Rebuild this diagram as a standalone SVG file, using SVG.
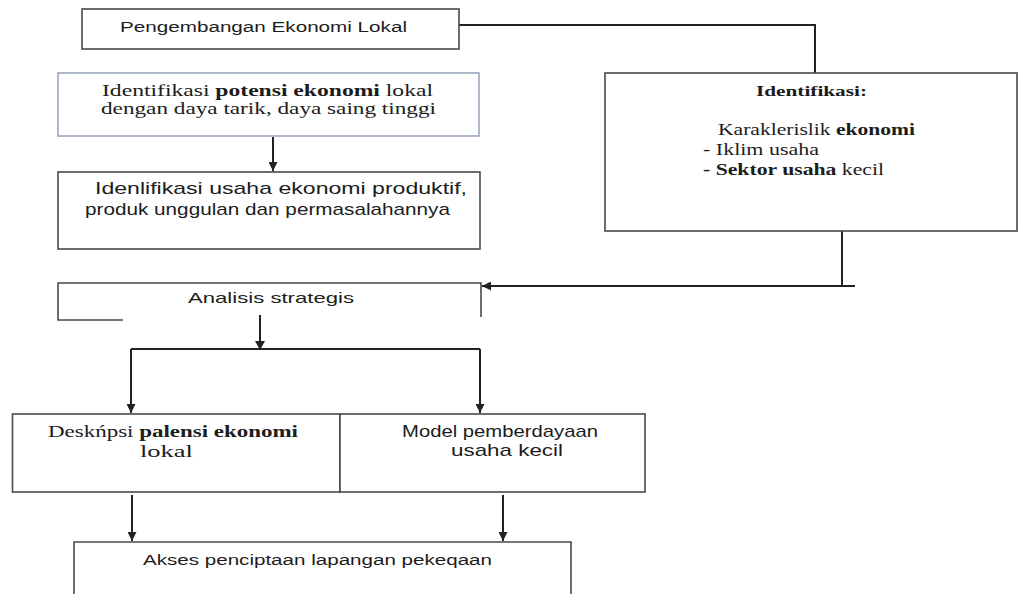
<svg xmlns="http://www.w3.org/2000/svg" width="1018" height="594" viewBox="0 0 1018 594">
<style>
.box{fill:#fff;stroke:#4a4a4a;stroke-width:1.6}
.boxl{fill:#fff;stroke:#8e9cb6;stroke-width:1.4}
.edge{fill:none;stroke:#4a4a4a;stroke-width:1.6}
.conn{fill:none;stroke:#222;stroke-width:2}
.sans{font-family:"Liberation Sans",Arial,sans-serif;fill:#1c1c1c}
.serif{font-family:"Liberation Serif","Times New Roman",serif;fill:#1c1c1c}
.b{font-weight:bold}
</style>
<defs>
<marker id="ah" viewBox="0 0 10 10" refX="10" refY="5" markerWidth="9" markerHeight="9" markerUnits="userSpaceOnUse" orient="auto">
<path d="M0,0 L10,5 L0,10 z" fill="#222"/>
</marker>
</defs>
<rect width="1018" height="594" fill="#fff"/>

<g id="connectors">
<path class="conn" d="M459,25 H815 V73"/>
<path class="conn" d="M273,137 V171" marker-end="url(#ah)"/>
<path class="conn" d="M842,231 V286"/>
<path class="conn" d="M855,286 H482" marker-end="url(#ah)"/>
<path class="conn" d="M260,315 V349"/>
<path class="conn" d="M131,349 H480"/>
<path class="conn" d="M131,349 V413" marker-end="url(#ah)"/>
<path class="conn" d="M480,349 V413" marker-end="url(#ah)"/>
<path class="conn" d="M132,495 V541" marker-end="url(#ah)"/>
<path class="conn" d="M503,495 V541" marker-end="url(#ah)"/>
<path d="M255,341 L265,341 L260,350 z" fill="#222"/>
</g>

<g id="n-pengembangan">
<rect class="box" x="82" y="9" width="377" height="40"/>
<text class="sans" x="120" y="31.5" font-size="15.5" textLength="287" lengthAdjust="spacingAndGlyphs">Pengembangan Ekonomi Lokal</text>
</g>

<g id="n-potensi">
<rect class="boxl" x="58" y="73" width="421" height="63"/>
<text class="serif" x="102" y="95.5" font-size="16" textLength="331" lengthAdjust="spacingAndGlyphs">Identifikasi <tspan class="b">potensi ekonomi</tspan> lokal</text>
<text class="serif" x="101" y="114" font-size="16" textLength="335" lengthAdjust="spacingAndGlyphs">dengan daya tarik, daya saing tinggi</text>
</g>

<g id="n-usaha">
<rect class="box" x="58" y="172" width="422" height="77"/>
<text class="sans" x="95" y="194" font-size="17" textLength="372" lengthAdjust="spacingAndGlyphs">Idenlifikasi usaha ekonomi produktif,</text>
<text class="sans" x="85" y="215" font-size="17" textLength="365" lengthAdjust="spacingAndGlyphs">produk unggulan dan permasalahannya</text>
</g>

<g id="n-identifikasi">
<rect class="box" x="605" y="73" width="412" height="158"/>
<text class="serif b" x="756" y="96" font-size="15.5" textLength="111" lengthAdjust="spacingAndGlyphs">Identifikasi:</text>
<text class="serif" x="718" y="135" font-size="16" textLength="197" lengthAdjust="spacingAndGlyphs">Karaklerislik <tspan class="b">ekonomi</tspan></text>
<text class="serif" x="703" y="155" font-size="16" textLength="116" lengthAdjust="spacingAndGlyphs">- Iklim usaha</text>
<text class="serif" x="703" y="175" font-size="16" textLength="181" lengthAdjust="spacingAndGlyphs"><tspan class="b">- Sektor usaha</tspan> kecil</text>
</g>

<g id="n-analisis">
<path class="edge" d="M123,320 H58 V283 H481 V317"/>
<text class="sans" x="188" y="303" font-size="15" textLength="166" lengthAdjust="spacingAndGlyphs">Analisis strategis</text>
</g>

<g id="n-deskripsi">
<rect class="box" x="12.5" y="414" width="327.5" height="78"/>
<text class="serif" x="48" y="437" font-size="16.5" textLength="250" lengthAdjust="spacingAndGlyphs">Deskńpsi <tspan class="b">palensi ekonomi</tspan></text>
<text class="serif" x="140" y="457" font-size="16.5" textLength="53" lengthAdjust="spacingAndGlyphs">lokal</text>
</g>

<g id="n-model">
<rect class="box" x="340" y="414" width="305" height="78"/>
<text class="sans" x="402" y="437" font-size="17" textLength="196" lengthAdjust="spacingAndGlyphs">Model pemberdayaan</text>
<text class="sans" x="451" y="456" font-size="17" textLength="112" lengthAdjust="spacingAndGlyphs">usaha kecil</text>
</g>

<g id="n-akses">
<path class="edge" d="M74,596 V542 H571 V596"/>
<text class="sans" x="143" y="565" font-size="15.5" textLength="349" lengthAdjust="spacingAndGlyphs">Akses penciptaan lapangan pekeqaan</text>
</g>
</svg>
